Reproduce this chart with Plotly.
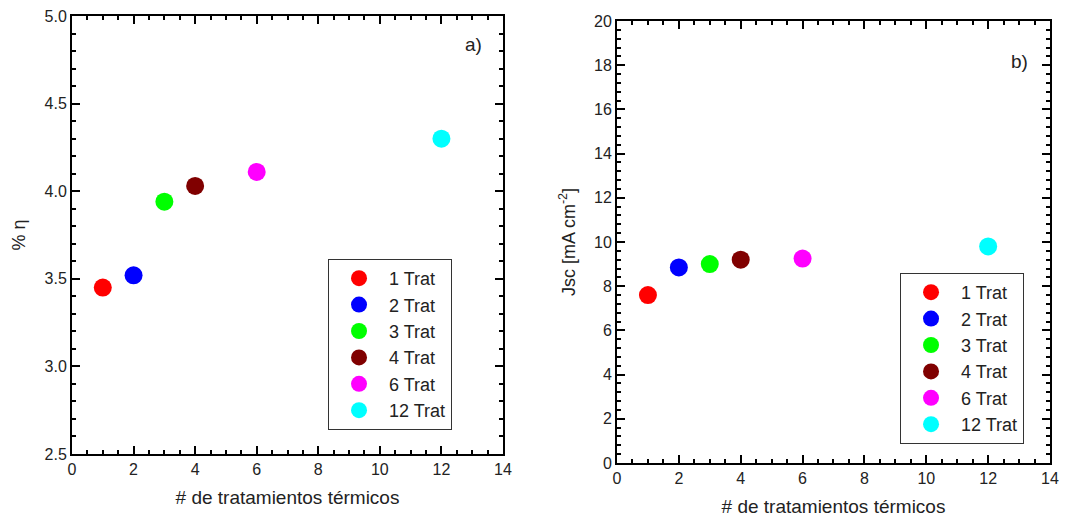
import plotly.graph_objects as go

treatments = [1, 2, 3, 4, 6, 12]
labels = ["1 Trat", "2 Trat", "3 Trat", "4 Trat", "6 Trat", "12 Trat"]
colors = ["#ff0000", "#0000ff", "#00ff00", "#800000", "#ff00ff", "#00ffff"]
efficiency = [3.45, 3.52, 3.94, 4.03, 4.11, 4.30]
jsc = [7.6, 8.85, 9.0, 9.2, 9.25, 9.8]

FONT = "Liberation Sans, Arial, sans-serif"

fig = go.Figure()
for i in range(len(treatments)):
    fig.add_trace(go.Scatter(
        x=[treatments[i]], y=[efficiency[i]], mode="markers", name=labels[i],
        marker=dict(size=18, color=colors[i]), xaxis="x", yaxis="y", legend="legend"))
for i in range(len(treatments)):
    fig.add_trace(go.Scatter(
        x=[treatments[i]], y=[jsc[i]], mode="markers", name=labels[i],
        marker=dict(size=18, color=colors[i]), xaxis="x2", yaxis="y2", legend="legend2"))

def xax(domain, anchor):
    return dict(domain=domain, anchor=anchor, range=[0, 14], dtick=2, tick0=0,
                automargin=False, ticklabeloverflow="allow",
                showline=True, linecolor="black", linewidth=2, mirror="ticks",
                ticks="inside", ticklen=8, tickwidth=1.5, tickcolor="black",
                minor=dict(ticks="inside", ticklen=4, dtick=0.5, tickcolor="black", tickwidth=1.5),
                showgrid=False, zeroline=False,
                tickfont=dict(size=16, color="#222", family=FONT),
                title=dict(text="# de tratamientos térmicos", font=dict(size=19, color="#222", family=FONT), standoff=14))

def yax(domain, anchor, rng, dtick, minor, title, fmt):
    return dict(domain=domain, anchor=anchor, range=rng, dtick=dtick, tick0=rng[0],
                tickformat=fmt, automargin=False, ticklabeloverflow="allow",
                showline=True, linecolor="black", linewidth=2, mirror="ticks",
                ticks="inside", ticklen=8, tickwidth=1.5, tickcolor="black",
                minor=dict(ticks="inside", ticklen=4, dtick=minor, tickcolor="black", tickwidth=1.5),
                showgrid=False, zeroline=False,
                tickfont=dict(size=16, color="#222", family=FONT),
                title=dict(text=title, font=dict(size=18, color="#222", family=FONT), standoff=14))

legend_style = dict(xanchor="left", yanchor="top",
                    bordercolor="#333", borderwidth=1, bgcolor="white",
                    font=dict(size=18, color="#222", family=FONT), itemsizing="trace",
                    itemwidth=50, tracegroupgap=0, entrywidth=107)

# page body has an 8px margin: figure is laid out in 1066x512
fig.update_layout(
    width=1066, height=512,
    margin=dict(l=0, r=0, t=0, b=0),
    plot_bgcolor="white", paper_bgcolor="white",
    font=dict(family=FONT, color="#222"),
    xaxis=xax([0.06004, 0.46435], "y"),
    yaxis=yax([0.12891, 0.98438], "x", [2.5, 5.0], 0.5, 0.1, "% η", ".1f"),
    xaxis2=xax([0.57129, 0.97749], "y2"),
    yaxis2=yax([0.11133, 0.97461], "x2", [0, 20], 2, 0.4, "Jsc [mA cm<sup>-2</sup>]", "d"),
    legend=dict(x=0.3002, y=0.5098, **legend_style),
    legend2=dict(x=0.8368, y=0.4824, **legend_style),
    annotations=[
        dict(text="a)", x=13.03, y=4.84, xref="x", yref="y", showarrow=False,
             font=dict(size=19, color="#222", family=FONT)),
        dict(text="b)", x=13.0, y=18.15, xref="x2", yref="y2", showarrow=False,
             font=dict(size=19, color="#222", family=FONT)),
    ],
    showlegend=True,
)

fig.write_html("out.html")
